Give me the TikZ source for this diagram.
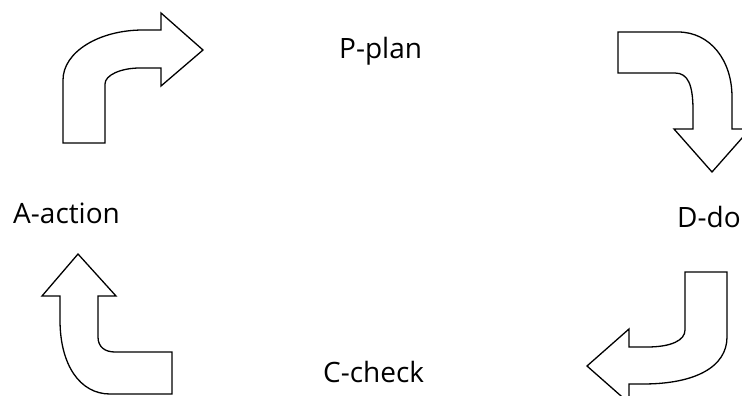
\documentclass[tikz,border=0pt]{standalone}
\usepackage{fontspec}
\setmainfont{Open Sans}
\begin{document}
\begin{tikzpicture}[x=1pt,y=-1pt,
  bentarrow/.style={draw=black,line width=1.3pt,line join=miter,fill=white},
  lbl/.style={anchor=base west,inner sep=0pt,font=\fontsize{28}{32}\selectfont}]
\useasboundingbox (0,0) rectangle (742,396);
\clip (0,0) rectangle (742,396);
% top-left arrow (A -> P)
\draw[bentarrow] (63,143) -- (63,80) .. controls (63,52) and (99,30) .. (143,30)
  -- (161,30) -- (161,13) -- (203,50) -- (161,86) -- (161,68) -- (140,68)
  .. controls (121,68) and (105,75) .. (105,84) -- (105,143) -- cycle;
% top-right arrow (P -> D)
\draw[bentarrow] (618,32) -- (678,32) .. controls (710,32) and (732,60) .. (732,97)
  -- (732,129) -- (750,129) -- (712,172) -- (674,129) -- (693,129) -- (693,110)
  .. controls (693,85) and (688,73) .. (675,73) -- (618,73) -- cycle;
% bottom-right arrow (D -> C)
\draw[bentarrow] (685,272) -- (727,272) -- (727,337) .. controls (727,367) and (695,384) .. (643,384)
  -- (629,384) -- (629,403) -- (587,366) -- (629,329) -- (629,347) -- (647,347)
  .. controls (672,347) and (685,340) .. (685,330) -- cycle;
% bottom-left arrow (C -> A)
\draw[bentarrow] (78,254) -- (116,296) -- (98,296) -- (98,337)
  .. controls (98,347) and (105,352) .. (115,352) -- (172,352) -- (172,394) -- (110,394)
  .. controls (80,394) and (60,365) .. (60,320) -- (60,296) -- (42,296) -- cycle;
% labels
\node[lbl] (plan) at (339,59) {P-plan};
\node[lbl] (do) at (677,227) {D-do};
\node[lbl] (check) at (323,382) {C-check};
\node[lbl] (action) at (13,223) {A-action};
\end{tikzpicture}
\end{document}
